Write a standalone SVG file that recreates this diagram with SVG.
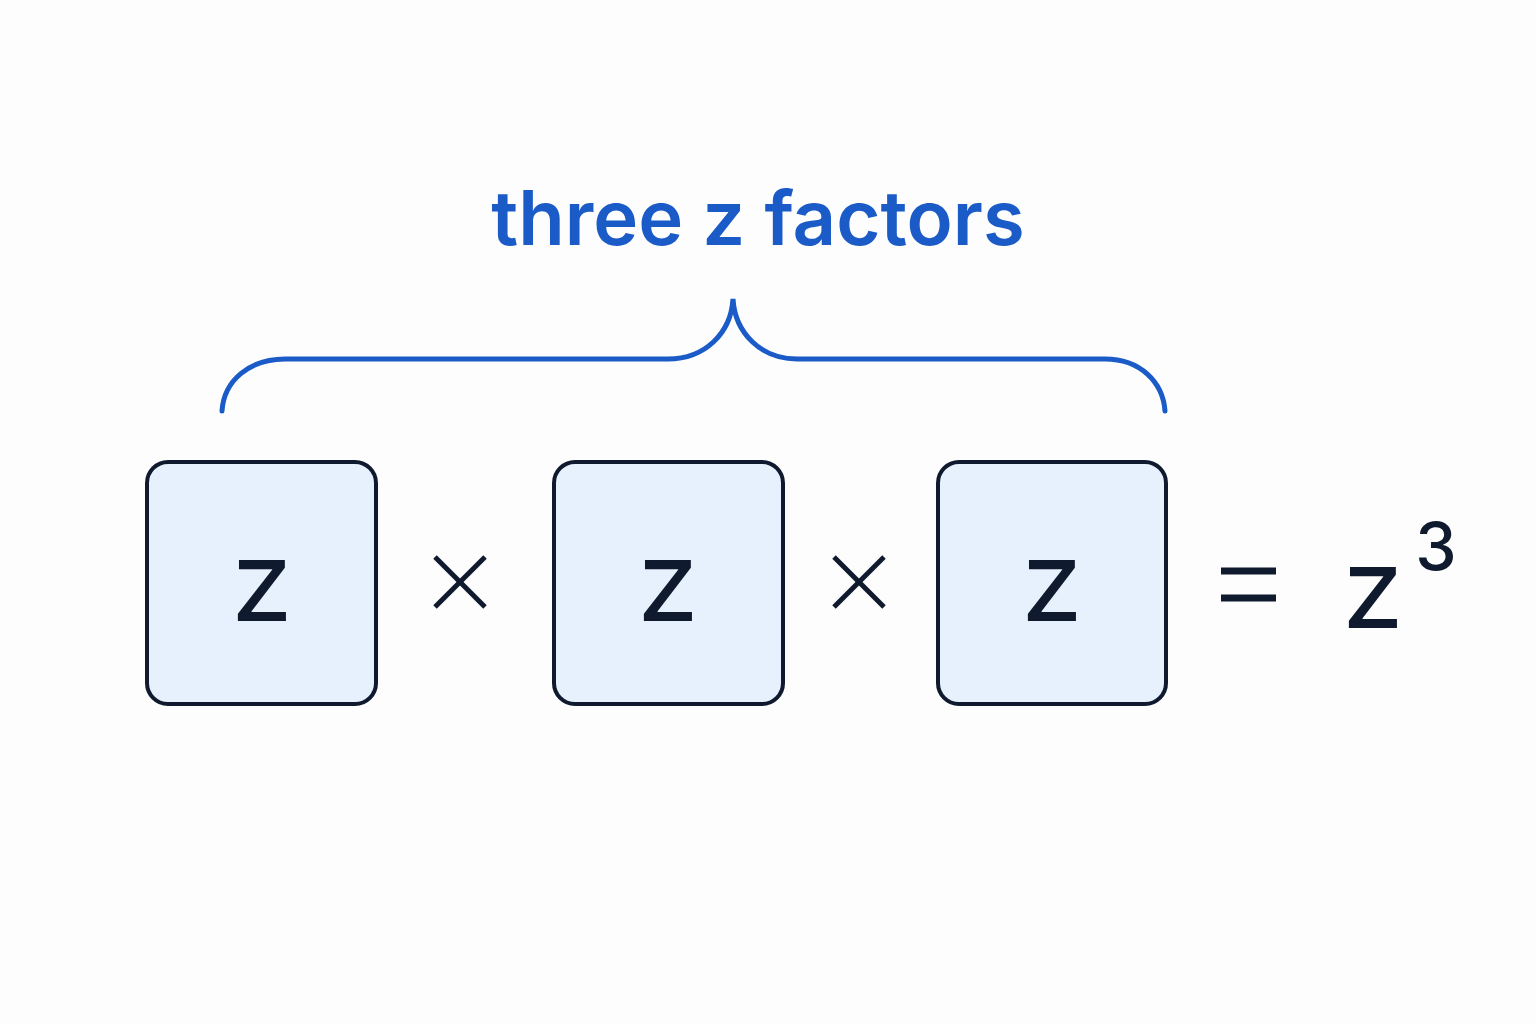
<svg xmlns="http://www.w3.org/2000/svg" width="1536" height="1024" viewBox="0 0 1536 1024">
<style>
.box{fill:#e6f1fd;stroke:#0f1a2e;stroke-width:4}
.t{font-family:Inter,"Liberation Sans",sans-serif;fill:#0f1a2e;text-anchor:middle}
.z{font-size:112px;font-weight:400}
</style>
<rect width="1536" height="1024" fill="#fdfdfd"/>
<text x="758" y="245" font-family="Inter,'Liberation Sans',sans-serif" font-size="76" font-weight="600" fill="#1a5bc8" text-anchor="middle">three z factors</text>
<g id="brace"><path d="M222,411 C224,380 250,359 285,359 L668,359 C705,359 731,333 733,299 C735,333 761,359 797,359 L1105,359 C1140,359 1163,382 1165,411" fill="none" stroke="#1a5bc8" stroke-width="5" stroke-linecap="round"/></g>
<g id="box1"><rect class="box" x="147" y="462" width="229" height="242" rx="21"/><text class="t z" x="262" y="621">z</text></g>
<g id="box2"><rect class="box" x="554" y="462" width="229" height="242" rx="21"/><text class="t z" x="668" y="621">z</text></g>
<g id="box3"><rect class="box" x="938" y="462" width="228" height="242" rx="21"/><text class="t z" x="1052" y="621">z</text></g>
<g id="ops" stroke="#0f1a2e" stroke-width="5">
<line x1="435" y1="557" x2="485" y2="607"/><line x1="485" y1="557" x2="435" y2="607"/>
<line x1="834" y1="557" x2="884" y2="607"/><line x1="884" y1="557" x2="834" y2="607"/>
<line x1="1221" y1="571" x2="1276" y2="571" stroke-width="7"/><line x1="1221" y1="598" x2="1276" y2="598" stroke-width="7"/>
</g>
<g id="result"><text class="t z" x="1373" y="628">z</text><text class="t" x="1436" y="570" font-size="66" font-weight="500">3</text></g>
</svg>
